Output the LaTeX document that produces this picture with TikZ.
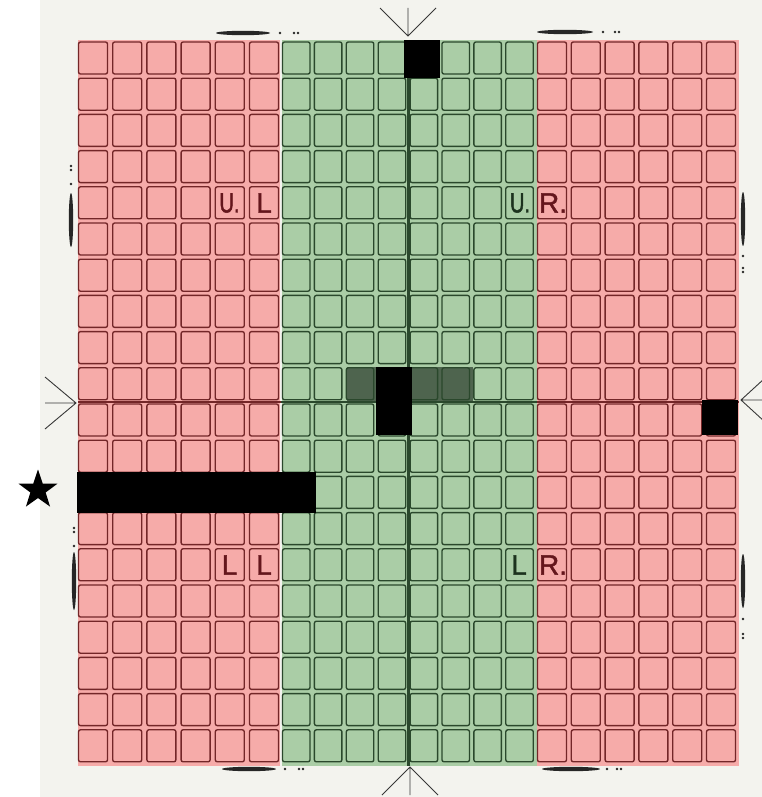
\documentclass[tikz,border=0pt]{standalone}
\usepackage{fontspec}
\setmainfont{Liberation Sans}
\newfontfamily\narrowfont[FakeStretch=0.72,FakeBold=1.6]{Liberation Sans}
\newfontfamily\labelfont[FakeBold=1.6]{Liberation Sans}
\usetikzlibrary{shapes.geometric}
\definecolor{pinkfill}{RGB}{246,171,169}
\definecolor{pinkline}{RGB}{115,38,40}
\definecolor{greenfill}{RGB}{170,205,166}
\definecolor{greenline}{RGB}{42,72,44}
\definecolor{greyover}{RGB}{78,100,78}
\definecolor{paper}{RGB}{243,243,238}
\definecolor{markgrey}{RGB}{55,55,55}
\definecolor{labred}{RGB}{100,22,28}
\definecolor{labgreen}{RGB}{28,50,30}
\tikzset{
  pinksq/.style={draw=pinkline, line width=1.35pt, rounded corners=2pt},
  greensq/.style={draw=greenline, line width=1.35pt, rounded corners=2pt},
  blackbox/.style={fill=black},
  chevron/.style={draw=markgrey, line width=0.9pt},
  regmark/.style={fill=black!85},
  lab/.style={inner sep=0pt, font=\labelfont\fontsize{28}{28}\selectfont},
}
\begin{document}
\begin{tikzpicture}[x=1pt,y=-1pt]
\useasboundingbox (0,0) rectangle (762,797);
\fill[white] (0,0) rectangle (762,797);
\fill[paper] (40,0) rectangle (762,797);
% coloured regions
\fill[pinkfill] (78,40) rectangle (280,766);
\fill[greenfill] (281.5,40) rectangle (537,766);
\fill[pinkfill] (537,40) rectangle (739,766);
% dark band
\fill[greyover] (347,367) rectangle (473,400.5);
% squares
\foreach \j in {0,...,19}{
  \foreach \i in {0,...,5}{
    \draw[pinksq] ({78.5+34.2*\i},{42+36.2*\j}) rectangle ++(29,32);
    \draw[pinksq] ({537.5+33.8*\i},{42+36.2*\j}) rectangle ++(29,32);
  }
  \foreach \i in {0,...,7}{
    \draw[greensq] ({282.5+31.9*\i},{42+36.2*\j}) rectangle ++(27.5,32);
  }
}
% centre lines
\draw[greenline, line width=2.6pt] (408.5,40) -- (408.5,766);
\draw[pinkline, line width=2pt] (78,402) -- (281,402);
\draw[greenline, line width=2pt] (281,402) -- (537,402);
\draw[pinkline, line width=2pt] (537,402) -- (739,402);
% black blocks
\fill[blackbox] (404,40) rectangle (440,78);
\fill[blackbox] (376,367) rectangle (412,435);
\fill[blackbox] (702,400) rectangle (738,435);
\fill[blackbox] (77,472) rectangle (316,513);
% star
\node[star, star points=5, star point ratio=2.55, fill=black, minimum size=41pt, inner sep=0pt] (star) at (38,490) {};
% labels
\node[lab, text=labred] (ulu) at (229.5,203) {\narrowfont U.};
\node[lab, text=labred] (ull) at (264,203) {L};
\node[lab, text=labgreen] (uru) at (520,203) {\narrowfont U.};
\node[lab, text=labred] (urr) at (553,203) {R.};
\node[lab, text=labred] (lll1) at (229.5,565) {L};
\node[lab, text=labred] (lll2) at (264,565) {L};
\node[lab, text=labgreen] (lrl) at (519,565) {L};
\node[lab, text=labred] (lrr) at (553,565) {R.};
% chevrons
\coordinate (topv) at (408,36);
\draw[chevron] (380,8) -- (topv) -- (436,8) (topv) -- (408,8);
\coordinate (botv) at (410,767);
\draw[chevron] (382,795) -- (botv) -- (438,795) (botv) -- (410,795);
\coordinate (leftv) at (76,403);
\draw[chevron] (45,377) -- (leftv) -- (45,429) (leftv) -- (45,403);
\coordinate (rightv) at (741,400);
\draw[chevron] (765,378) -- (rightv) -- (765,422) (rightv) -- (765,400);
% registration marks (top/bottom)
\fill[regmark] (243,33) ellipse (27 and 2.2);
\fill[regmark] (280,33) circle (1.4) (294,33) circle (1.3) (298,33) circle (1.3);
\fill[regmark] (565,32) ellipse (28 and 2.2);
\fill[regmark] (603,32) circle (1.4) (615,32) circle (1.3) (619,32) circle (1.3);
\fill[regmark] (249,769) ellipse (27 and 2.2);
\fill[regmark] (285,769) circle (1.4) (299,769) circle (1.3) (303,769) circle (1.3);
\fill[regmark] (571,769) ellipse (29 and 2.2);
\fill[regmark] (607,769) circle (1.4) (617,769) circle (1.3) (621,769) circle (1.3);
% registration marks (sides)
\fill[regmark] (71,220) ellipse (2.2 and 27);
\fill[regmark] (71,184) circle (1.4) (71,166) circle (1.3) (71,170) circle (1.3);
\fill[regmark] (74,581) ellipse (2.2 and 29);
\fill[regmark] (74,546) circle (1.4) (74,528) circle (1.3) (74,532) circle (1.3);
\fill[regmark] (743,219) ellipse (2.2 and 27);
\fill[regmark] (743,256) circle (1.4) (743,268) circle (1.3) (743,272) circle (1.3);
\fill[regmark] (743,581) ellipse (2.2 and 27);
\fill[regmark] (743,619) circle (1.4) (743,634) circle (1.3) (743,638) circle (1.3);
\end{tikzpicture}
\end{document}
